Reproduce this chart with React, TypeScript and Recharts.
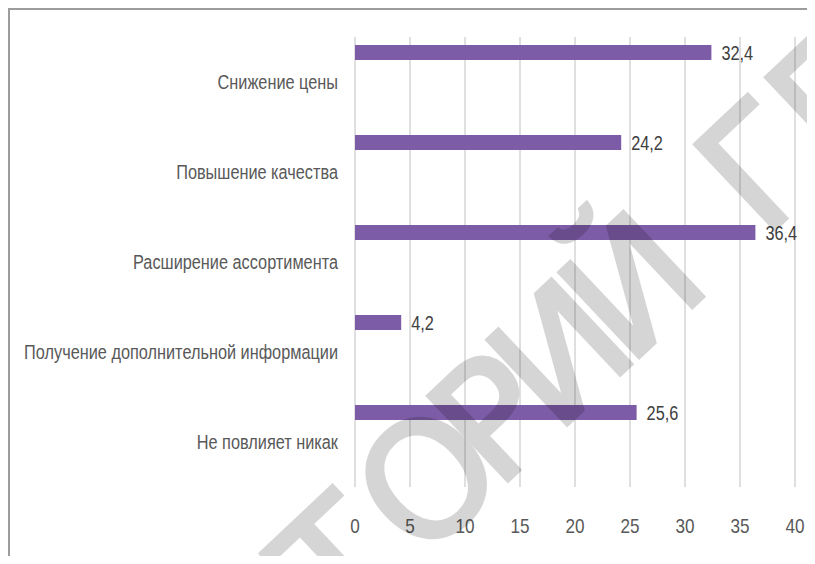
import { BarChart, Bar, XAxis, YAxis, CartesianGrid, LabelList } from 'recharts';

const categories = [
  'Снижение цены',
  'Повышение качества',
  'Расширение ассортимента',
  'Получение дополнительной информации',
  'Не повлияет никак',
];
const shares = [32.4, 24.2, 36.4, 4.2, 25.6];
// second (empty) series of the source chart, it only shifts the bars up in each band
const emptySeries = [null, null, null, null, null];
const xTicks = [0, 5, 10, 15, 20, 25, 30, 35, 40];

const watermarkHead = 'РЕПОЗИ';
const watermarkTail = 'ТОРИЙ ГГУ';

const data = categories.map((name, i) => ({ name, value: shares[i], blank: emptySeries[i] }));

// no narrow font installed, so Liberation Sans squeezed like Arial Narrow
const FONT = "'Liberation Sans', Arial, sans-serif";
const SQUEEZE = 0.815;

function CategoryTick(props: any) {
  const { x, y, payload } = props;
  return (
    <text
      transform={`translate(${x},${y}) scale(${SQUEEZE},1)`}
      textAnchor="end"
      dy="0.355em"
      fill="#595959"
      fontSize={20}
      fontFamily={FONT}
    >
      {payload.value}
    </text>
  );
}

function ValueTick(props: any) {
  const { x, y, payload } = props;
  return (
    <text
      transform={`translate(${x},${y}) scale(${SQUEEZE},1)`}
      textAnchor="middle"
      dy="0.71em"
      fill="#595959"
      fontSize={21}
      fontFamily={FONT}
    >
      {payload.value}
    </text>
  );
}

function BarValue(props: any) {
  const vb = props.viewBox ?? props;
  const x = vb.x + vb.width + 10;
  const y = vb.y + vb.height / 2;
  return (
    <text
      transform={`translate(${x},${y}) scale(${SQUEEZE},1)`}
      dy="0.355em"
      fill="#404040"
      fontSize={20}
      fontFamily={FONT}
    >
      {String(props.value).replace('.', ',')}
    </text>
  );
}

export default function App() {
  return (
    <div
      style={{
        position: 'relative',
        width: 807,
        height: 556,
        marginBottom: -8,
        boxSizing: 'border-box',
        borderTop: '2px solid #9c9c9c',
        borderLeft: '2px solid #9c9c9c',
        background: '#fff',
        fontFamily: FONT,
      }}
    >
      <BarChart
        width={805}
        height={554}
        data={data}
        layout="vertical"
        margin={{ top: 27, right: 20, bottom: 17, left: 0 }}
        barSize={15}
        barGap={45}
      >
        <CartesianGrid horizontal={false} stroke="#c0c0c0" />
        <XAxis
          type="number"
          domain={[0, 40]}
          ticks={xTicks}
          axisLine={false}
          tickLine={false}
          tickMargin={25}
          height={60}
          tick={<ValueTick />}
        />
        <YAxis
          type="category"
          dataKey="name"
          width={345}
          axisLine={false}
          tickLine={false}
          tickMargin={11}
          tick={<CategoryTick />}
        />
        <Bar dataKey="value" fill="#7d5ca7" isAnimationActive={false}>
          <LabelList dataKey="value" content={<BarValue />} />
        </Bar>
        <Bar dataKey="blank" fill="#7d5ca7" isAnimationActive={false} />
      </BarChart>
      {/* repository watermark laid over the chart */}
      <svg
        width={815}
        height={564}
        style={{ position: 'absolute', left: -10, top: -10, pointerEvents: 'none' }}
      >
        <g
          transform="rotate(-43.3, 341, 638)"
          fontFamily="'DejaVu Sans', sans-serif"
          fontSize={160}
          fill="#000"
          stroke="#000"
          strokeWidth={4}
          opacity={0.16}
        >
          <text x={341} y={638} textAnchor="end">{watermarkHead}</text>
          <text x={341} y={638} dx="0 11 -21 -15 -21 16 0 0 0">{watermarkTail}</text>
        </g>
      </svg>
    </div>
  );
}
